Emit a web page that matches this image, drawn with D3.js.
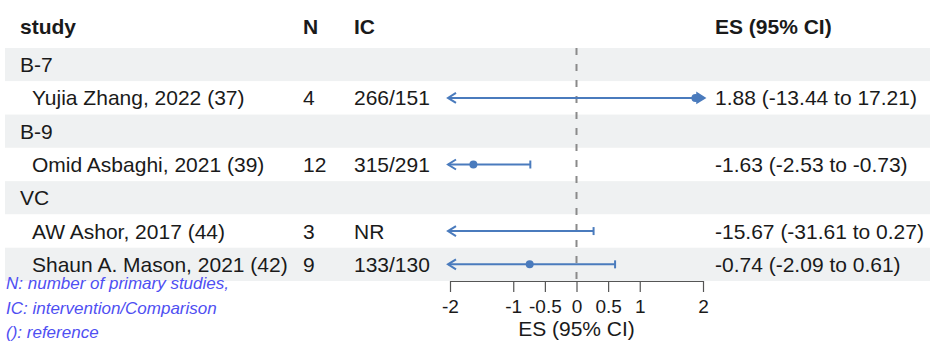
<!DOCTYPE html>
<html lang="en">
<head>
    <meta charset="UTF-8">
    <title>Forest plot</title>
    <script src="https://d3js.org/d3.v7.min.js"></script>
    <style>
        body {
            margin: 0;
            background-color: #ffffff;
        }
        svg text {
            font-family: 'Liberation Sans', Arial, sans-serif;
            fill: #1a1a1a;
        }
        .header {
            font-weight: bold;
        }
        .note {
            font-style: italic;
            fill: #4f4ff2;
        }
    </style>
</head>
<body>
    <div id="chart"></div>
    <script>
        // Study rows, grouped by subgroup
        const subgroups = ["B-7", "B-9", "VC", "VC"];
        const studies = ["Yujia Zhang, 2022 (37)", "Omid Asbaghi, 2021 (39)", "AW Ashor, 2017 (44)", "Shaun A. Mason, 2021 (42)"];
        const nStudies = [4, 12, 3, 9];
        const icCounts = ["266/151", "315/291", "NR", "133/130"];
        const est = [1.88, -1.63, -15.67, -0.74];
        const lower = [-13.44, -2.53, -31.61, -2.09];
        const upper = [17.21, -0.73, 0.27, 0.61];

        const headers = ["study", "N", "IC", "ES (95% CI)"];
        const xTicks = [-2, -1, -0.5, 0, 0.5, 1, 2];
        const xLimits = [-2, 2];
        const notes = ["N: number of primary studies,", "IC: intervention/Comparison", "(): reference"];

        const width = 930, height = 341;
        const lineColor = "#4a7bbd";

        // build table rows: a group label row before each new subgroup
        const rows = [];
        subgroups.forEach((g, i) => {
            if (i === 0 || subgroups[i - 1] !== g) rows.push({ type: "group", label: g });
            rows.push({ type: "study", i: i });
        });

        const svg = d3.select("#chart")
            .append("svg")
            .attr("width", width)
            .attr("height", height);

        const yScale = d3.scaleBand().domain(d3.range(rows.length)).range([48, 281]);
        const xScale = d3.scaleLinear().domain(xLimits).range([450, 703]);

        // alternating row shading
        svg.selectAll(".band")
            .data(rows)
            .enter()
            .append("rect")
            .attr("x", 5)
            .attr("y", (d, i) => yScale(i))
            .attr("width", width - 5)
            .attr("height", yScale.bandwidth())
            .attr("fill", (d, i) => i % 2 === 0 ? "#eff1f2" : "#ffffff");

        // column headers
        const colX = [20, 303, 354, 715];
        svg.selectAll(".header")
            .data(headers)
            .enter()
            .append("text")
            .attr("class", "header")
            .attr("x", (d, i) => colX[i])
            .attr("y", 34)
            .style("font-size", "21px")
            .text(d => d);

        const fmt = v => v.toFixed(2);
        const rowY = i => yScale(i) + yScale.bandwidth() / 2 + 7.5;

        rows.forEach((r, k) => {
            if (r.type === "group") {
                svg.append("text").attr("x", 20).attr("y", rowY(k))
                    .style("font-size", "21px").text(r.label);
                return;
            }
            const i = r.i;
            svg.append("text").attr("x", 32).attr("y", rowY(k))
                .style("font-size", "21px").text(studies[i]);
            svg.append("text").attr("x", colX[1]).attr("y", rowY(k))
                .style("font-size", "21px").text(nStudies[i]);
            svg.append("text").attr("x", colX[2]).attr("y", rowY(k))
                .style("font-size", "21px").text(icCounts[i]);
            svg.append("text").attr("x", colX[3]).attr("y", rowY(k))
                .style("font-size", "21px")
                .text(`${fmt(est[i])} (${fmt(lower[i])} to ${fmt(upper[i])})`);
        });

        // reference line at zero
        svg.append("line")
            .attr("x1", xScale(0)).attr("x2", xScale(0))
            .attr("y1", 48).attr("y2", 281)
            .attr("stroke", "#8a8a8a")
            .attr("stroke-width", 2)
            .attr("stroke-dasharray", "7,9");

        // confidence intervals
        const ci = svg.append("g");
        rows.forEach((r, k) => {
            if (r.type !== "study") return;
            const i = r.i;
            const cy = yScale(k) + yScale.bandwidth() / 2;
            const lo = Math.max(lower[i], xLimits[0]);
            const hi = Math.min(upper[i], xLimits[1]);
            ci.append("line")
                .attr("x1", xScale(lo) - (lower[i] < xLimits[0] ? 2 : 0))
                .attr("x2", xScale(hi) + (upper[i] > xLimits[1] ? 2 : 0))
                .attr("y1", cy).attr("y2", cy)
                .attr("stroke", lineColor).attr("stroke-width", 2);

            // left end: arrow or cap
            if (lower[i] < xLimits[0]) {
                const tx = xScale(xLimits[0]) - 2;
                ci.append("path")
                    .attr("d", `M${tx + 8},${cy - 5}L${tx},${cy}L${tx + 8},${cy + 5}`)
                    .attr("fill", "none").attr("stroke", lineColor).attr("stroke-width", 2);
            } else {
                ci.append("line").attr("x1", xScale(lo)).attr("x2", xScale(lo))
                    .attr("y1", cy - 4).attr("y2", cy + 4)
                    .attr("stroke", lineColor).attr("stroke-width", 2);
            }
            // right end: arrow or cap
            if (upper[i] > xLimits[1]) {
                const tx = xScale(xLimits[1]) + 2;
                ci.append("path")
                    .attr("d", `M${tx - 8},${cy - 5}L${tx},${cy}L${tx - 8},${cy + 5}Z`)
                    .attr("fill", lineColor).attr("stroke", lineColor).attr("stroke-width", 1.5);
            } else {
                ci.append("line").attr("x1", xScale(hi)).attr("x2", xScale(hi))
                    .attr("y1", cy - 4).attr("y2", cy + 4)
                    .attr("stroke", lineColor).attr("stroke-width", 2);
            }

            // point estimate, only when inside the x range
            if (est[i] >= xLimits[0] && est[i] <= xLimits[1]) {
                ci.append("circle")
                    .attr("cx", xScale(est[i])).attr("cy", cy)
                    .attr("r", 4).attr("fill", lineColor);
            }
        });

        // x axis
        const xAxis = d3.axisBottom(xScale)
            .tickValues(xTicks)
            .tickSize(11)
            .tickSizeOuter(0)
            .tickFormat(d => String(d));

        const ax = svg.append("g")
            .attr("transform", "translate(0,281)")
            .call(xAxis);
        ax.select(".domain").attr("stroke", "#555").attr("stroke-width", 1.2);
        ax.selectAll(".tick line").attr("stroke", "#555").attr("stroke-width", 1.2);
        ax.selectAll(".tick text")
            .attr("y", 32)
            .attr("dy", null)
            .style("font-size", "19px")
            .style("font-family", "'Liberation Sans', Arial, sans-serif")
            .attr("fill", "#1a1a1a");

        svg.append("text")
            .attr("x", xScale(0))
            .attr("y", 336)
            .attr("text-anchor", "middle")
            .style("font-size", "21px")
            .text("ES (95% CI)");

        // footnote
        svg.selectAll(".note")
            .data(notes)
            .enter()
            .append("text")
            .attr("class", "note")
            .attr("x", 6)
            .attr("y", (d, i) => 289 + i * 24.5)
            .style("font-size", "17px")
            .text(d => d);
    </script>
</body>
</html>
